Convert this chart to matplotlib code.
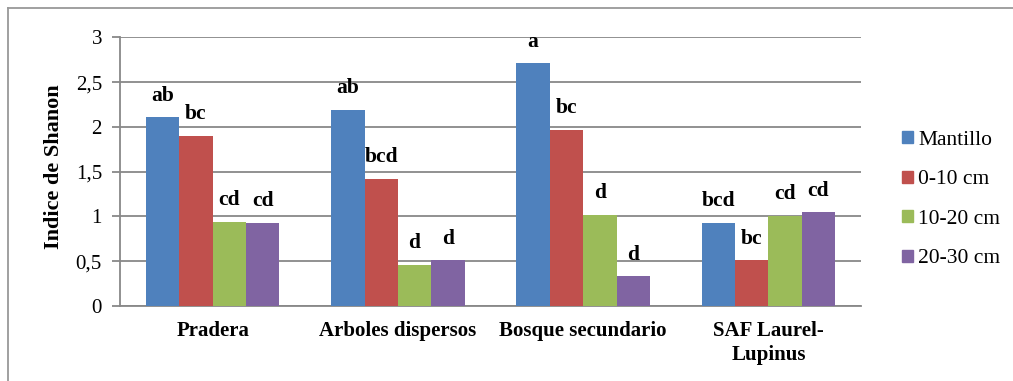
import matplotlib
matplotlib.use("Agg")
import matplotlib.pyplot as plt
import numpy as np
from matplotlib.lines import Line2D

plt.rcParams['font.family'] = ['Liberation Serif', 'DejaVu Serif']

categories = ["Pradera", "Arboles dispersos", "Bosque secundario", "SAF Laurel-\nLupinus"]
series_names = ["Mantillo", "0-10 cm", "10-20 cm", "20-30 cm"]
mantillo = [2.11, 2.19, 2.71, 0.93]
cm_0_10 = [1.90, 1.42, 1.97, 0.51]
cm_10_20 = [0.94, 0.46, 1.02, 1.01]
cm_20_30 = [0.93, 0.51, 0.33, 1.05]
letters = [
    ["ab", "ab", "a", "bcd"],
    ["bc", "bcd", "bc", "bc"],
    ["cd", "d", "d", "cd"],
    ["cd", "d", "d", "cd"],
]
colors = ["#4F81BD", "#C0504D", "#9BBB59", "#8064A2"]
yticks = [0, 0.5, 1, 1.5, 2, 2.5, 3]
ytick_labels = ["0", "0,5", "1", "1,5", "2", "2,5", "3"]

series = [mantillo, cm_0_10, cm_10_20, cm_20_30]

fig = plt.figure(figsize=(10.13, 3.81), dpi=100)
ax = fig.add_axes([0.1185, 0.197, 0.85 - 0.1185, 0.9016 - 0.197])

x = np.arange(len(categories))
w = 0.18
for i, (vals, name, c) in enumerate(zip(series, series_names, colors)):
    pos = x + (i - 1.5) * w
    ax.bar(pos, vals, width=w, color=c, label=name, zorder=3)
    for p, v, t in zip(pos, vals, letters[i]):
        ax.text(p, v + 0.24, t, ha="center", va="center", fontsize=15.5,
                fontweight="bold", zorder=4)

ax.set_xlim(-0.5, 3.5)
ax.set_ylim(0, 3)
ax.set_yticks(yticks)
ax.set_yticklabels(ytick_labels, fontsize=15)
ax.set_xticks(x)
ax.set_xticklabels(categories, fontsize=15, fontweight="bold", linespacing=1.25, va="top")
ax.tick_params(axis="x", length=0, pad=11)
ax.tick_params(axis="y", length=6, width=1.3, color="#888888", pad=7)
ax.yaxis.grid(True, color="#888888", linewidth=1.3, zorder=0)
for s in ["top", "right"]:
    ax.spines[s].set_visible(False)
ax.spines["left"].set_color("#888888")
ax.spines["left"].set_linewidth(1.3)
ax.spines["bottom"].set_color("#888888")
ax.spines["bottom"].set_linewidth(1.3)
ax.set_ylabel("Indice de Shanon", fontsize=16, fontweight="bold")
ax.yaxis.set_label_coords(-0.075, 0.52)

handles = [plt.Rectangle((0, 0), 1, 1, color=c) for c in colors]
leg = fig.legend(handles, series_names, loc="center left",
                 bbox_to_anchor=(0.882, 0.476), frameon=False, fontsize=15.5,
                 handlelength=0.5, handleheight=0.5, handletextpad=0.25,
                 labelspacing=0.95, borderaxespad=0)

# outer frame (top and left visible)
fig.add_artist(Line2D([8/1013, 1.0], [1 - 8/381, 1 - 8/381], color="#999999", linewidth=1.3))
fig.add_artist(Line2D([8/1013, 8/1013], [0, 1 - 8/381], color="#999999", linewidth=1.3))

fig.savefig("out.png", dpi=100)
